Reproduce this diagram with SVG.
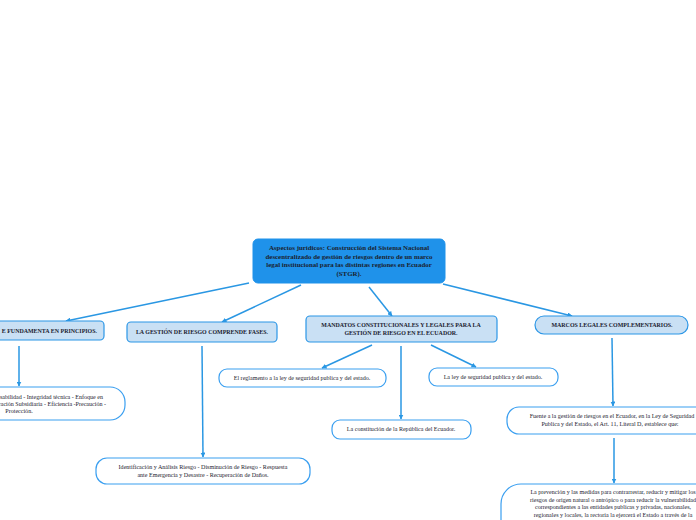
<svg xmlns="http://www.w3.org/2000/svg" width="696" height="520" viewBox="0 0 696 520">
<style>
.root{fill:#1f92ea;stroke:#1f92ea;stroke-width:1}
.hd{fill:#c9e0f4;stroke:#2b96e6;stroke-width:1.2}
.ch{fill:#ffffff;stroke:#3a9ff0;stroke-width:1.2}
.rt{font-family:"Liberation Serif",serif;font-weight:bold;font-size:6.9px;fill:#1b2230;text-anchor:middle}
.ht{font-family:"Liberation Serif",serif;font-weight:bold;font-size:5.95px;fill:#1b2230;text-anchor:middle}
.ct{font-family:"Liberation Serif",serif;font-size:6.05px;fill:#1b2230;text-anchor:middle}
.cn{stroke:#2a97e3;stroke-width:1.5;fill:none;marker-end:url(#ah)}
</style>
<defs>
<marker id="ah" viewBox="0 0 10 10" refX="9" refY="5" markerWidth="5" markerHeight="5" orient="auto" markerUnits="userSpaceOnUse">
<path d="M0,0 L10,5 L0,10 z" fill="#2a97e3"/>
</marker>
</defs>
<rect width="696" height="520" fill="#ffffff"/>
<g id="connectors">
<line class="cn" x1="249" y1="283" x2="66" y2="321"/>
<line class="cn" x1="301" y1="285" x2="222" y2="322"/>
<line class="cn" x1="369" y1="287" x2="392" y2="316"/>
<line class="cn" x1="443" y1="284" x2="572" y2="316"/>
<line class="cn" x1="19" y1="346" x2="19" y2="386"/>
<line class="cn" x1="202" y1="346" x2="203" y2="457"/>
<line class="cn" x1="372" y1="345" x2="322" y2="368"/>
<line class="cn" x1="401" y1="346" x2="401" y2="419"/>
<line class="cn" x1="431" y1="345" x2="476" y2="367"/>
<line class="cn" x1="612" y1="338" x2="613" y2="406"/>
<line class="cn" x1="614" y1="438" x2="614" y2="483"/>
</g>
<g id="root">
<rect class="root" x="253" y="239" width="192" height="44" rx="5"/>
<text class="rt" x="349" y="250">Aspectos jurídicos: Construcción del Sistema Nacional</text>
<text class="rt" x="349" y="258.5">descentralizado de gestión de riesgos dentro de un marco</text>
<text class="rt" x="349" y="267">legal institucional para las distintas regiones en Ecuador</text>
<text class="rt" x="349" y="275.5">(STGR).</text>
</g>
<g id="n1">
<rect class="hd" x="-20" y="321" width="124" height="19" rx="4"/>
<text class="ht" x="97" y="332.5" style="text-anchor:end">E FUNDAMENTA EN PRINCIPIOS.</text>
</g>
<g id="n2">
<rect class="hd" x="127" y="322" width="150" height="20" rx="4"/>
<text class="ht" x="202" y="334">LA GESTIÓN DE RIESGO COMPRENDE FASES.</text>
</g>
<g id="n3">
<rect class="hd" x="306" y="316" width="191" height="26" rx="4"/>
<text class="ht" x="401" y="326.5">MANDATOS CONSTITUCIONALES Y LEGALES PARA LA</text>
<text class="ht" x="401" y="334.5">GESTIÓN DE RIESGO EN EL ECUADOR.</text>
</g>
<g id="n4">
<rect class="hd" x="535" y="316" width="153" height="18" rx="9"/>
<text class="ht" x="612" y="327">MARCOS LEGALES COMPLEMENTARIOS.</text>
</g>
<g id="n1c">
<rect class="ch" x="-60" y="387" width="185" height="33" rx="15"/>
<text class="ct" x="103" y="398.5" style="text-anchor:end">sabilidad - Integridad técnica - Enfoque en</text>
<text class="ct" x="106" y="405.5" style="text-anchor:end">ración Subsidiaria - Eficiencia -Precaución -</text>
<text class="ct" x="19" y="412.5">Protección.</text>
</g>
<g id="n2c">
<rect class="ch" x="96" y="458" width="214" height="26" rx="11"/>
<text class="ct" x="203" y="469">Identificación y Análisis Riesgo - Disminución de Riesgo - Respuesta</text>
<text class="ct" x="203" y="477">ante Emergencia y Desastre - Recuperación de Daños.</text>
</g>
<g id="n3a">
<rect class="ch" x="219" y="369" width="167" height="18" rx="8"/>
<text class="ct" x="302" y="380">El reglamento a la ley de seguridad publica y del estado.</text>
</g>
<g id="n3b">
<rect class="ch" x="429" y="368" width="129" height="18" rx="8"/>
<text class="ct" x="493" y="379">La ley de seguridad publica y del estado.</text>
</g>
<g id="n3c">
<rect class="ch" x="332" y="420" width="139" height="19" rx="8"/>
<text class="ct" x="401" y="431">La constitución de la República del Ecuador.</text>
</g>
<g id="n4c">
<rect class="ch" x="507" y="407" width="210" height="27" rx="12"/>
<text class="ct" x="612" y="418">Fuente a la gestión de riesgos en el Ecuador, en la Ley de Seguridad</text>
<text class="ct" x="610" y="426">Publica y del Estado, el Art. 11, Literal D, establece que:</text>
</g>
<g id="n4cc">
<rect class="ch" x="501" y="484" width="230" height="60" rx="20"/>
<text class="ct" x="613" y="494">La prevención y las medidas para contrarrestar, reducir y mitigar los</text>
<text class="ct" x="613" y="501.5">riesgos de origen natural o antrópico o para reducir la vulnerabilidad</text>
<text class="ct" x="613" y="509">correspondientes a las entidades publicas y privadas, nacionales,</text>
<text class="ct" x="613" y="516.5">regionales y locales, la rectoría la ejercerá el Estado a través de la</text>
</g>
</svg>
